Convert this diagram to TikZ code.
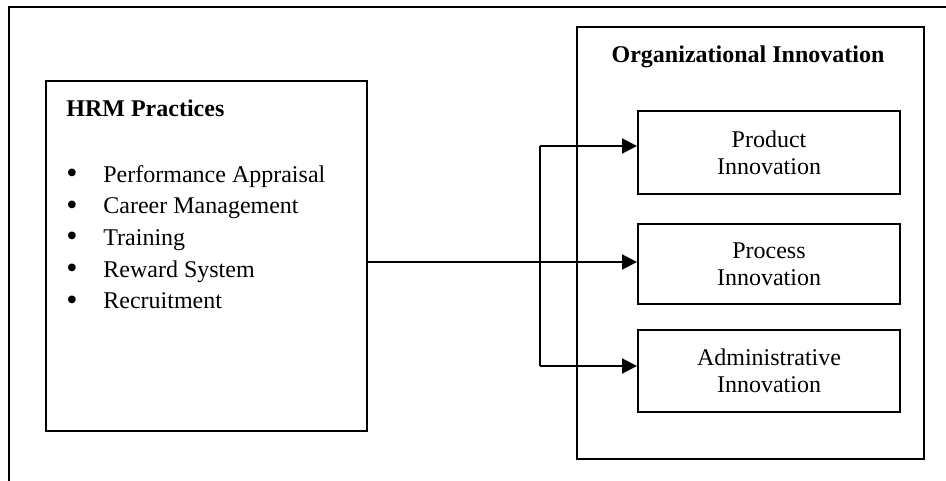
\documentclass[tikz,border=0pt]{standalone}
\usepackage{fontspec}
\setmainfont{Liberation Serif}
\usetikzlibrary{arrows.meta}
\begin{document}
\begin{tikzpicture}[x=0.5pt,y=-0.5pt,
  frame/.style={line width=1pt},
  boxnode/.style={draw,line width=1pt,rectangle,inner sep=0pt},
  inbox/.style={boxnode,minimum width=131pt,align=center,font=\fontsize{12}{13.5}\selectfont},
  txt/.style={inner sep=0pt,font=\fontsize{12}{14}\selectfont},
  bul/.style={inner sep=0pt,font=\fontsize{16}{16}\selectfont},
  arr/.style={line width=1pt,-{Triangle[length=7.5pt,width=7.5pt]}}]
\useasboundingbox (0,0) rectangle (946,481);
% outer frame (open)
\coordinate (ftr) at (946,7.5);
\coordinate (ftl) at (9,7.5);
\coordinate (fbl) at (9,481);
\draw[frame] (ftr) -- (ftl) -- (fbl);
% main boxes
\node[boxnode,minimum width=160.5pt,minimum height=175pt] (hrm) at (206.5,256) {};
\node[boxnode,minimum width=173.5pt,minimum height=216pt] (org) at (750.5,243) {};
% titles
\node[txt,anchor=base west,font=\fontsize{12}{14}\selectfont\bfseries] (hrmtitle) at (66,116) {HRM Practices};
\node[txt,anchor=base,font=\fontsize{12}{14}\selectfont\bfseries] (orgtitle) at (748,62) {Organizational Innovation};
% bullet list
\foreach \i/\t [count=\k] in {182/Performance Appraisal,213.5/Career Management,245/Training,277/Reward System,308.5/Recruitment}{
  \node[bul,anchor=center] (bul\k) at (72,\i-5.5) {\textbullet};
  \node[txt,anchor=base west] (item\k) at (103,\i) {\t};
}
% inner boxes
\node[inbox,minimum height=41.5pt] (product) at (769,152.5) {Product\\Innovation};
\node[inbox,minimum height=40pt] (process) at (769,264) {Process\\Innovation};
\node[inbox,minimum height=41pt] (admin) at (769,371) {Administrative\\Innovation};
% connectors
\coordinate (j) at (540,262);
\coordinate (bt) at (540,146);
\coordinate (bb) at (540,366);
\draw[arr] (hrm.east |- j) -- (process.west |- j);
\draw[line width=1pt] (bt) -- (bb);
\draw[arr] (bt) -- (product.west |- bt);
\draw[arr] (bb) -- (admin.west |- bb);
\end{tikzpicture}
\end{document}
